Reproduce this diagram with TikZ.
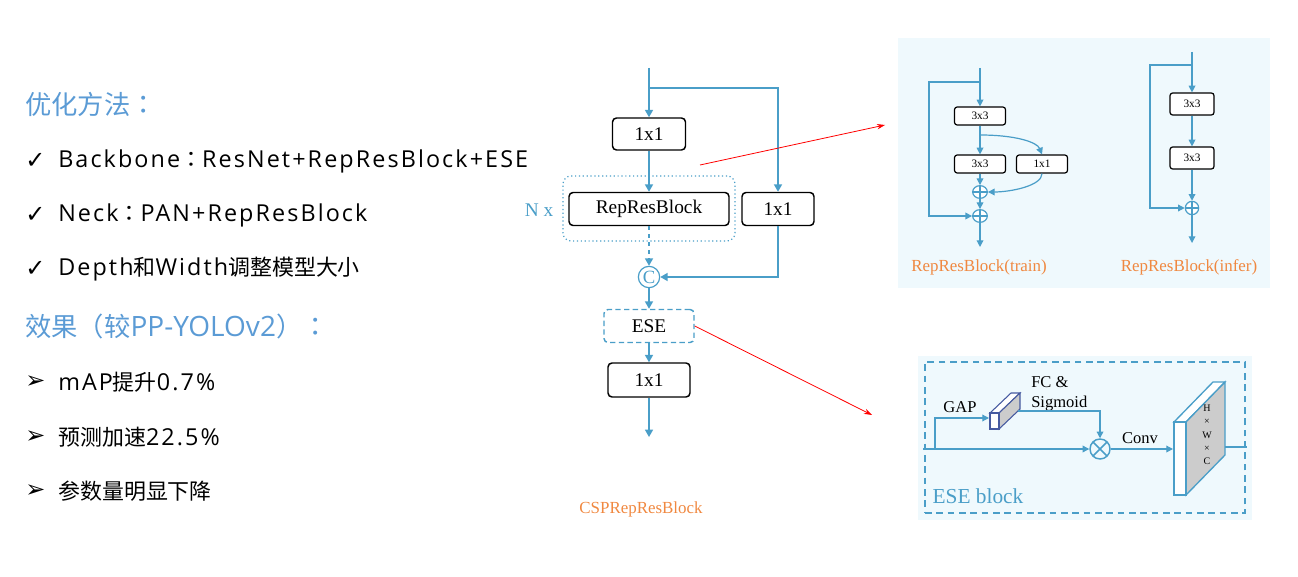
\documentclass[tikz,border=0pt]{standalone}
\usepackage{fontspec}
\setmainfont{Liberation Serif}
\newfontfamily\lat{Open Sans}
\newfontfamily\latw[LetterSpace=9]{Open Sans}
\newfontfamily\cjk[Scale=0.94]{Noto Sans CJK SC}
\newfontfamily\cjkp[Scale=0.94]{Noto Sans CJK TC}
\newfontfamily\symb{DejaVu Sans}
\newcommand\zh[1]{{\cjk #1}}
\newcommand\fwcolon{{\cjkp ：}}
\usetikzlibrary{arrows.meta,positioning,shapes.geometric}
\definecolor{lineblue}{RGB}{74,158,200}
\definecolor{headblue}{RGB}{91,155,213}
\definecolor{lblorange}{RGB}{240,136,64}
\definecolor{panelbg}{RGB}{239,249,253}
\definecolor{cubeblue}{RGB}{70,90,160}

\begin{document}
\begin{tikzpicture}
[x=0.75pt,y=-0.75pt
,bx/.style={draw=black,line width=1.1pt,rounded corners=3pt,fill=white,inner sep=0pt,font=\fontsize{14.5}{16}\selectfont}
,sbx/.style={bx,line width=0.9pt,rounded corners=2pt,font=\fontsize{8.5}{10}\selectfont}
,ln/.style={draw=lineblue,line width=1.1pt}
,ar/.style={ln,-{Triangle[length=5.5pt,width=6pt]}}
,sln/.style={draw=lineblue,line width=0.9pt}
,sar/.style={sln,-{Triangle[length=5pt,width=5pt]}}
,redar/.style={draw=red,line width=0.6pt,-{Stealth[length=6pt,width=4pt]}}
,oplus/.style={ellipse,draw=lineblue,line width=0.9pt,fill=white,minimum width=11pt,minimum height=9.5pt,inner sep=0pt
  ,path picture={\draw[lineblue,line width=0.9pt] (path picture bounding box.north) -- (path picture bounding box.south)
     (path picture bounding box.west) -- (path picture bounding box.east);}}
,otimes/.style={circle,draw=lineblue,line width=1.1pt,minimum size=15pt,inner sep=0pt
  ,path picture={\draw[lineblue,line width=1.1pt] (path picture bounding box.center) ++(45:7.5pt) -- ++(225:15pt)
     (path picture bounding box.center) ++(135:7.5pt) -- ++(315:15pt);}}
,item/.style={anchor=west,inner sep=0pt,font=\latw\fontsize{17.5}{21}\selectfont}
,bul/.style={anchor=west,inner sep=0pt,font=\symb\fontsize{18}{21}\selectfont}
,head/.style={anchor=west,inner sep=0pt,text=headblue,font=\lat\fontsize{21}{25}\selectfont}
,lbl/.style={text=lblorange,inner sep=0pt,font=\fontsize{12.7}{14}\selectfont}
,txt/.style={inner sep=0pt,font=\fontsize{12.4}{15}\selectfont}
]
\useasboundingbox (0,0) rectangle (1298,577);

% left column
\node[head] (h1) at (25,104) {\zh{优化方法}\fwcolon};
\node[bul] (k1) at (25,161) {✓};
\node[item] (i1) at (58,161) {Backbone\fwcolon ResNet+RepResBlock+ESE};
\node[bul] (k2) at (25,215) {✓};
\node[item] (i2) at (58,215) {Neck\fwcolon PAN+RepResBlock};
\node[bul] (k3) at (25,269) {✓};
\node[item] (i3) at (58,269) {Depth\zh{和}Width\zh{调整模型大小}};
\node[head] (h2) at (25,326) {\zh{效果（较}PP-YOLOv2\zh{）}\fwcolon};
\node[bul] (k4) at (25,382) {➢};
\node[item] (i4) at (58,382) {mAP\zh{提升}0.7\%};
\node[bul] (k5) at (25,437) {➢};
\node[item] (i5) at (58,437) {\zh{预测加速}22.5\%};
\node[bul] (k6) at (25,491) {➢};
\node[item] (i6) at (58,491) {\zh{参数量明显下降}};

% CSPRepResBlock
\node[draw=lineblue,dotted,line width=0.9pt,rounded corners=6pt,minimum width=129pt,minimum height=48.75pt] (grp) at (649,208.5) {};
\node[bx,minimum width=54.75pt,minimum height=24pt] (c1) at (649,134) {1x1};
\node[bx,minimum width=120pt,minimum height=24.75pt] (rrb) at (649,209) {RepResBlock};
\node[bx,minimum width=54pt,minimum height=24.75pt] (c2) at (778,209) {1x1};
\node[text=lineblue,inner sep=0pt,font=\fontsize{14.5}{16}\selectfont] (nx) at (539,210) {N x};
\node[circle,draw=lineblue,line width=0.9pt,inner sep=0pt,minimum size=16pt,text=lineblue,font=\fontsize{14}{14}\selectfont] (cat) at (649,277) {C};
\node[bx,draw=lineblue,dash pattern=on 4pt off 2.5pt,minimum width=67.5pt,minimum height=24.75pt] (ese) at (649,326) {ESE};
\node[bx,minimum width=61.5pt,minimum height=25.5pt] (c3) at (649,380) {1x1};
\node[lbl] (csplbl) at (641,509) {CSPRepResBlock};
\coordinate (in) at (649,68);
\coordinate (split) at (649,88);
\coordinate (out) at (649,437);
\draw[ln] (in) -- (split);
\draw[ar] (split) -- (c1);
\draw[ar] (split) -| (c2);
\draw[ar] (c1) -- (rrb);
\draw[ar,dashed] (rrb) -- (cat);
\draw[ar] (c2) |- (cat);
\draw[ar] (cat) -- (ese);
\draw[ar] (ese) -- (c3);
\draw[ar] (c3) -- (out);

% pointers
\coordinate (r1a) at (700,165);
\coordinate (r1b) at (885,125);
\coordinate (r2b) at (872,415);
\draw[redar] (r1a) -- (r1b);
\draw[redar] (ese.east) -- (r2b);

% RepResBlock train / infer
\fill[panelbg] (898,38) rectangle (1270,288);
\node[sbx,minimum width=38.25pt,minimum height=13.5pt] (tr1) at (980,116) {3x3};
\node[sbx,minimum width=38.25pt,minimum height=13.5pt] (tr2) at (980,164) {3x3};
\node[sbx,minimum width=38.25pt,minimum height=13.5pt] (tr3) at (1042,164) {1x1};
\node[oplus] (tp1) at (980,192) {};
\node[oplus] (tp2) at (980,216) {};
\coordinate (tin) at (980,68);
\coordinate (tsplit) at (980,82);
\coordinate (tleft) at (929,82);
\coordinate (tbr) at (980,135);
\coordinate (tout) at (980,247);
\draw[sln] (tin) -- (tsplit);
\draw[sar] (tsplit) -- (tr1);
\draw[sar] (tsplit) -- (tleft) |- (tp2);
\draw[sar] (tr1) -- (tr2);
\draw[sar] (tbr) .. controls (1015,135) and (1037,142) .. (tr3.north);
\draw[sar] (tr2) -- (tp1);
\draw[sar] (tr3.south) .. controls (1042,186) and (1010,192) .. (tp1.east);
\draw[sar] (tp1) -- (tp2);
\draw[sar] (tp2) -- (tout);
\node[lbl] (trlbl) at (979,267) {RepResBlock(train)};

\node[sbx,minimum width=33pt,minimum height=16.5pt] (in1) at (1192,104) {3x3};
\node[sbx,minimum width=33pt,minimum height=16.5pt] (in2) at (1192,158) {3x3};
\node[oplus,minimum width=10pt,minimum height=10pt] (ip) at (1192,208) {};
\coordinate (iin) at (1192,52);
\coordinate (isplit) at (1192,65);
\coordinate (ileft) at (1150,65);
\coordinate (iout) at (1192,243);
\draw[sln] (iin) -- (isplit);
\draw[sar] (isplit) -- (in1);
\draw[sar] (isplit) -- (ileft) |- (ip);
\draw[sar] (in1) -- (in2);
\draw[sar] (in2) -- (ip);
\draw[sar] (ip) -- (iout);
\node[lbl] (inlbl) at (1189,267) {RepResBlock(infer)};

% ESE block
\fill[panelbg] (918,356) rectangle (1252,520);
\node[draw=lineblue,line width=1.1pt,dash pattern=on 5pt off 3.5pt,minimum width=240pt,minimum height=113.25pt,inner sep=0pt] (eseblk) at (1085,437.5) {};
\node[text=lineblue,inner sep=0pt,font=\fontsize{16}{18}\selectfont] (eselbl) at (978,496) {ESE block};
\node[txt] (gaplbl) at (960,407) {GAP};
\node[txt,anchor=west,align=left] (fclbl) at (1031,394) {FC \&\\Sigmoid};
\node[txt] (convlbl) at (1140,438) {Conv};
\node[otimes] (mul) at (1100,449) {};
% FC cuboid
\filldraw[draw=cubeblue,fill=white,line width=0.8pt] (990,413) -- (999,413) -- (1020,393) -- (1011,393) -- cycle;
\filldraw[draw=cubeblue,fill=gray!40,line width=0.8pt] (999,413) -- (1020,393) -- (1020,409) -- (999,429) -- cycle;
\filldraw[draw=cubeblue,fill=white,line width=0.8pt] (990,413) rectangle (999,429);
% feature slab
\filldraw[draw=lineblue,fill=white,line width=1pt] (1174,422) -- (1186,422) -- (1225,382) -- (1213,382) -- cycle;
\filldraw[draw=lineblue,fill=gray!40,line width=1pt] (1186,422) -- (1225,382) -- (1225,455) -- (1186,495) -- cycle;
\filldraw[draw=lineblue,fill=white,line width=1pt] (1174,422) rectangle (1186,495);
\node[inner sep=0pt,align=center,font=\fontsize{7.5}{10}\selectfont] (hwc) at (1207,435) {H\\×\\W\\×\\C};
\coordinate (ein) at (923,449);
\coordinate (egap) at (935,449);
\coordinate (cubein) at (989,418);
\coordinate (cubeout) at (1018,411);
\coordinate (slabin) at (1173,449);
\coordinate (slabout) at (1225,447);
\coordinate (eout) at (1247,447);
\draw[sar] (ein) -- (mul);
\draw[sar] (egap) |- (cubein);
\draw[sar] (cubeout) -| (mul);
\draw[sar] (mul) -- (slabin);
\draw[sln] (slabout) -- (eout);
\end{tikzpicture}
\end{document}
